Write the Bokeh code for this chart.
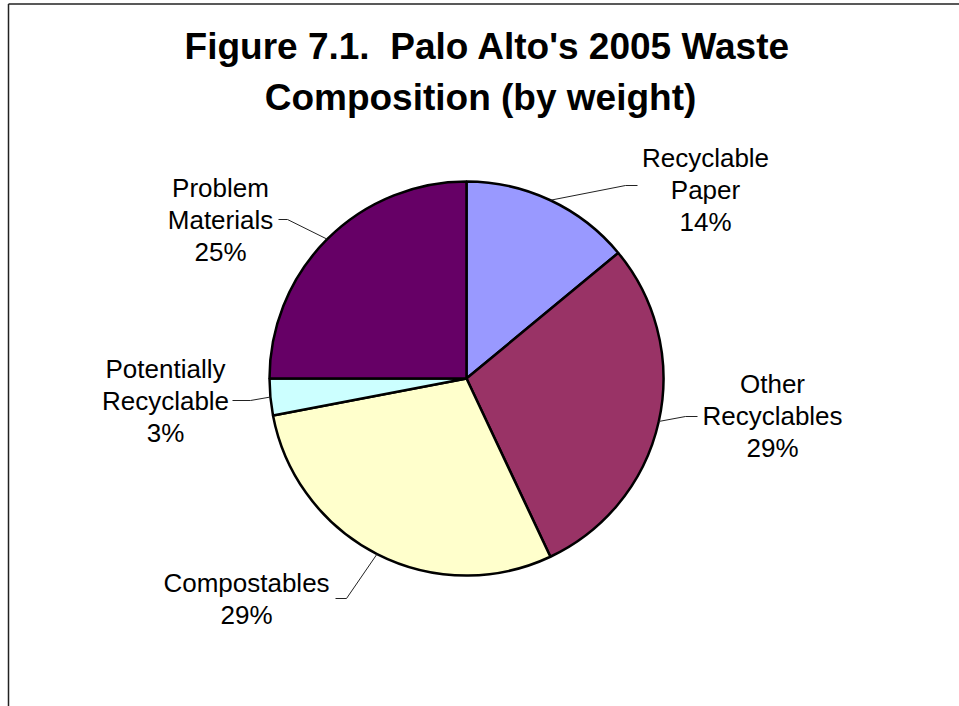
import math
from bokeh.plotting import figure
from bokeh.models import Range1d, ColumnDataSource
from bokeh.core.properties import value
from bokeh.embed import file_html
from bokeh.resources import INLINE

# Waste composition data (percent by weight), clockwise from 12 o'clock
categories = ["Recyclable Paper", "Other Recyclables", "Compostables",
              "Potentially Recyclable", "Problem Materials"]
label_lines = [["Recyclable", "Paper"], ["Other", "Recyclables"], ["Compostables"],
               ["Potentially", "Recyclable"], ["Problem", "Materials"]]
percents = [14, 29, 29, 3, 25]
colors = ["#9999FF", "#993366", "#FFFFCC", "#CCFFFF", "#660066"]

# non-breaking space keeps the double gap after the figure number
title_lines = ["Figure 7.1.\u00a0 Palo Alto's 2005 Waste", "Composition (by weight)"]

W, H = 959, 706
FONT = value("Liberation Sans")

def Y(py):
    # page-style (top-down) coordinate to plot coordinate
    return H - py

p = figure(width=W, height=H, x_range=Range1d(0, W), y_range=Range1d(0, H),
           output_backend="svg", toolbar_location=None,
           x_axis_location=None, y_axis_location=None, min_border=0)
p.grid.visible = False
p.outline_line_color = None
p.background_fill_color = "white"
p.border_fill_color = "white"

# chart-area frame (top and left edges visible)
p.line([8, W + 5], [Y(3.5), Y(3.5)], line_color="#222222", line_width=1.5)
p.line([8, 8], [Y(3.5), -5], line_color="#222222", line_width=1.5)

# pie geometry
cx, cy, R = 466, Y(378), 197
total = float(sum(percents))
starts, ends, mids = [], [], []
cum = 0.0
for v in percents:
    a0 = math.pi / 2 - 2 * math.pi * cum / total
    cum += v
    a1 = math.pi / 2 - 2 * math.pi * cum / total
    starts.append(a0)
    ends.append(a1)
    mids.append((a0 + a1) / 2)

src = ColumnDataSource(dict(start=starts, end=ends, color=colors, name=categories))
p.wedge(x=cx, y=cy, radius=R, start_angle="start", end_angle="end",
        direction="clock", fill_color="color", line_color="black",
        line_width=2.5, source=src)

# leader elbows / ends and label block placement (x, first-line y) in page coords
leaders = [((625, 185), (637, 185)),
           ((685, 416), (697, 416)),
           ((346, 598), (335, 598)),
           ((250, 400), (232, 400)),
           ((287, 219), (278, 219))]
label_pos = [(705, 157), (772, 383), (246, 582), (165, 368), (220, 187)]
LINE_H = 32

for mid, (elbow, end) in zip(mids, leaders):
    sx = cx + R * math.cos(mid)
    sy = cy + R * math.sin(mid)
    p.line([sx, elbow[0], end[0]], [sy, Y(elbow[1]), Y(end[1])],
           line_color="#222222", line_width=1)

tx, ty, tt = [], [], []
for lines, pct, (lx, ly) in zip(label_lines, percents, label_pos):
    for i, t in enumerate(lines + [f"{pct}%"]):
        tx.append(lx)
        ty.append(Y(ly + i * LINE_H))
        tt.append(t)
p.text(x=tx, y=ty, text=tt, text_font=FONT, text_font_size="26px",
       text_align="center", text_baseline="middle", text_color="black")

# title
p.text(x=[487, 480], y=[Y(46), Y(97)], text=title_lines, text_font=FONT,
       text_font_size="37px", text_font_style="bold", text_align="center",
       text_baseline="middle", text_color="black")

open("out.html", "w").write(file_html(p, INLINE))
